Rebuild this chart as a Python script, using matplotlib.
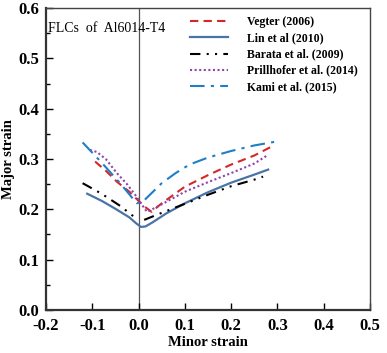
import numpy as np
import matplotlib
matplotlib.use("Agg")
import matplotlib.pyplot as plt
from matplotlib.ticker import MultipleLocator

plt.rcParams['font.family'] = ['Liberation Serif', 'DejaVu Serif']

# Vegter (2006)
vegter_x = [-0.094, -0.07, -0.047, -0.02, 0.003, 0.015, 0.028, 0.05, 0.1, 0.15, 0.2, 0.25, 0.29]
vegter_y = [0.295, 0.276, 0.255, 0.235, 0.214, 0.204, 0.195, 0.212, 0.245, 0.268, 0.289, 0.307, 0.326]
# Lin et al (2010)
lin_x = [-0.111, -0.08, -0.05, -0.02, -0.005, 0.005, 0.015, 0.03, 0.06, 0.1, 0.15, 0.2, 0.25, 0.28]
lin_y = [0.231, 0.217, 0.201, 0.184, 0.172, 0.165, 0.166, 0.174, 0.192, 0.212, 0.234, 0.253, 0.269, 0.279]
# Barata et al. (2009)
barata_l_x = [-0.121, -0.08, -0.04, -0.011]
barata_l_y = [0.252, 0.231, 0.207, 0.186]
barata_r_x = [0.012, 0.05, 0.1, 0.15, 0.2, 0.25, 0.269]
barata_r_y = [0.179, 0.193, 0.211, 0.229, 0.246, 0.259, 0.265]
# Prillhofer et al. (2014)
prill_x = [-0.105, -0.09, -0.07, -0.047, -0.025, -0.005, 0.005, 0.018, 0.04, 0.07, 0.1, 0.15, 0.2, 0.25, 0.276]
prill_y = [0.318, 0.314, 0.299, 0.272, 0.25, 0.226, 0.212, 0.195, 0.205, 0.22, 0.235, 0.254, 0.272, 0.291, 0.306]
# Kami et al. (2015)
kami_x = [-0.121, -0.08, -0.04, -0.004, 0.01, 0.03, 0.05, 0.08, 0.11, 0.15, 0.2, 0.25, 0.293]
kami_y = [0.333, 0.293, 0.252, 0.212, 0.216, 0.234, 0.252, 0.272, 0.289, 0.303, 0.316, 0.327, 0.334]

fig = plt.figure(figsize=(3.87, 3.53), dpi=100)
ax = fig.add_axes([0.119, 0.122, 0.837, 0.855])

ax.axvline(0.0, color='#555555', lw=0.9, zorder=1)

ax.plot(vegter_x, vegter_y, color='#d62728', ls=(0, (4, 2.5)), lw=1.5, label='Vegter (2006)')
ax.plot(lin_x, lin_y, color='#4a74a8', ls='-', lw=1.6, label='Lin et al (2010)')
ax.plot(barata_l_x, barata_l_y, color='black', ls=(0, (5, 3, 1, 3, 1, 3)), lw=1.5,
        label='Barata et al. (2009)')
ax.plot(barata_r_x, barata_r_y, color='black', ls=(0, (5, 3, 1, 3, 1, 3)), lw=1.5)
ax.plot(prill_x, prill_y, color='#8e44ad', ls=(0, (1, 1.2)), lw=1.5, label='Prillhofer et al. (2014)')
ax.plot(kami_x, kami_y, color='#1f7fc4', ls=(0, (7, 3, 1.5, 3)), lw=1.5, label='Kami et al. (2015)')

ax.set_xlim(-0.2, 0.5)
ax.set_ylim(0.0, 0.6)
ax.xaxis.set_major_locator(MultipleLocator(0.1))
ax.yaxis.set_major_locator(MultipleLocator(0.1))
ax.yaxis.set_minor_locator(MultipleLocator(0.05))
ax.tick_params(axis='both', which='both', direction='in', top=False, right=False)
ax.tick_params(which='major', length=5, width=1)
ax.tick_params(which='minor', length=3, width=1)
ax.tick_params(axis='x', which='major', pad=6)
ax.tick_params(axis='y', which='major', pad=5)
ax.tick_params(axis='x', which='minor', bottom=False)
ax.xaxis.set_major_formatter(plt.FuncFormatter(lambda v, p: f'{v:.1f}'))
ax.yaxis.set_major_formatter(plt.FuncFormatter(lambda v, p: f'{v:.1f}'))
for lab in ax.get_xticklabels() + ax.get_yticklabels():
    lab.set_fontweight('bold')
    lab.set_fontsize(12)

for side in ['left', 'bottom']:
    ax.spines[side].set_linewidth(1.6)
    ax.spines[side].set_color('#333333')
for side in ['top', 'right']:
    ax.spines[side].set_linewidth(1.0)
    ax.spines[side].set_color('#444444')

ax.set_xlabel('Minor strain', fontsize=10.5, fontweight='bold', labelpad=1)
ax.set_ylabel('Major strain', fontsize=10.5, fontweight='bold', labelpad=2)

ax.text(-0.195, 0.56, 'FLCs  of  Al6014-T4', fontsize=10, va='center', ha='left')

leg = ax.legend(loc='upper left', bbox_to_anchor=(0.42, 1.0), frameon=False,
                prop={'weight': 'bold', 'size': 8.5}, handlelength=3.2,
                handletextpad=1.6, labelspacing=0.35, borderaxespad=0.3)

fig.savefig('out.png', dpi=100)
